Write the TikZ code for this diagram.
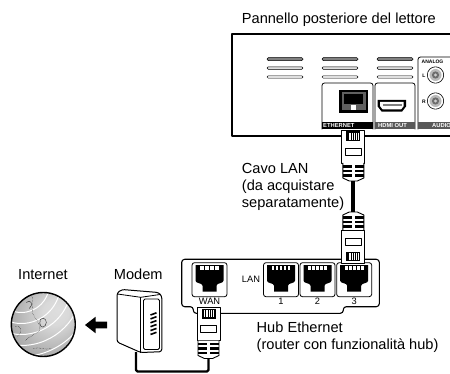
\documentclass[tikz,border=0pt]{standalone}
\usepackage{fontspec}
\setmainfont{Liberation Sans}
\usepackage{tikz}

\tikzstyle{lbl} = [inner sep=0pt, font=\fontsize{14.6}{17}\selectfont]
\tikzstyle{portlbl} = [inner sep=0pt, font=\fontsize{9.3}{11}\selectfont]
\tikzstyle{barlbl} = [inner sep=0pt, anchor=west, text=white, font=\fontsize{5.8}{6}\selectfont\bfseries]
\tikzstyle{tinylbl} = [inner sep=0pt, font=\fontsize{5}{5}\selectfont\bfseries]
\tikzstyle{portframe} = [draw=black, line width=0.8pt, rounded corners=2.5pt]
\tikzstyle{vent} = [draw=black, line width=0.5pt, rounded corners=1.3pt]
\tikzstyle{coast} = [gray!40!black, line width=0.45pt]
\tikzstyle{lancable} = [line width=3.8pt]
\tikzstyle{wancable} = [line width=2.3pt, rounded corners=1.5pt]

\definecolor{globelight}{RGB}{222,222,222}
\definecolor{globemid}{RGB}{172,172,172}
\definecolor{globedark}{RGB}{120,120,120}
\pgfdeclareradialshading{globeshade}{\pgfpoint{12bp}{12bp}}{%
  rgb(0bp)=(0.87,0.87,0.87); rgb(10bp)=(0.85,0.85,0.85); rgb(30bp)=(0.67,0.67,0.67); rgb(50bp)=(0.47,0.47,0.47)}

\tikzset{
  % RJ45 plug, tip at the origin, cable leaving at (-end)
  lanplug/.pic={
    \draw[fill=white, line width=0.9pt] (-11.5,0) rectangle (11.5,33);
    \fill (-7,1.5) rectangle (7,11);
    \foreach \i in {-4.5,-2.7,...,4.6}
      \draw[white, line width=0.45pt] (\i,2.8) -- (\i,9.8);
    \draw[line width=0.7pt] (-8,18) rectangle (8,25);
    \draw[fill=white, line width=0.9pt] (-10.5,33) -- (-10.5,48) -- (-4,51) -- (4,51) -- (10.5,48) -- (10.5,33);
    \foreach \j in {36.5,41,45.5}{
      \fill (-10.5,\j-1.1) rectangle (-1.5,\j+1.1);
      \fill (1.5,\j-1.1) rectangle (10.5,\j+1.1);
    }
    \coordinate (-end) at (0,51);
  },
  % socket on the hub, #1 = number of pins
  rjjack/.pic={
    \draw[portframe, fill=white] (-17.5,0) rectangle (17.5,34);
    \fill (-14,2.5) -- (14,2.5) -- (14,18) .. controls (14,21) and (7,20) .. (7,23) -- (7,29)
      -- (-7,29) -- (-7,23) .. controls (-7,20) and (-14,21) .. (-14,18) -- cycle;
    \foreach \k in {1,...,#1}
      \fill[white] ({-10+(\k-1)*20/#1+0.6},3.8) rectangle ({-10+\k*20/#1-0.6},7);
  }
}

\begin{document}
\begin{tikzpicture}[x=1pt, y=-1pt, line join=round]
\useasboundingbox (0,0) rectangle (450,374);
\clip (0,0) rectangle (450,374);

% player back panel
\draw[line width=1.8pt] (460,34) -- (232,34) -- (232,136) -- (460,136);
\foreach \vx in {267,322,377}{
  \draw[vent, fill=gray] (\vx,57.6) rectangle ++(36,3);
  \draw[vent, fill=gray!25] (\vx,66.8) rectangle ++(36,2.6);
  \draw[vent, fill=white] (\vx,75.8) rectangle ++(36,2.4);
}
% ethernet
\draw[portframe] (322,129.5) -- (322,83) -- (373,83) -- (373,129.5);
\fill (322,122) rectangle (373,129.5);
\node[barlbl] (ethlbl) at (323,125.9) {ETHERNET};
\fill (339,90) rectangle (368,113);
\fill[gray!75!black] (341.5,92.5) rectangle (365.5,110.5);
\fill (344,94.5) rectangle (363,104);
\fill[white] (351,105.5) rectangle (356,110.5);
% hdmi
\draw[portframe] (375,129.5) -- (375,83) -- (415,83) -- (415,129.5);
\fill[gray!70!black] (375,122) rectangle (415,129.5);
\node[barlbl] (hdmilbl) at (378,125.9) {HDMI OUT};
\fill (377.7,100) -- (406,100) -- (406,106.5) -- (402,111.7) -- (381.7,111.7) -- (377.7,106.5) -- cycle;
\fill[white] (380,102) -- (403.7,102) -- (403.7,106) -- (401,109.5) -- (382.7,109.5) -- (380,106) -- cycle;
\fill[gray] (382.5,104.3) rectangle (401.5,106.5);
% audio
\draw[portframe] (418,129.5) -- (418,57) -- (460,57);
\node[tinylbl, anchor=west] (analog) at (421.5,61.5) {ANALOG};
\node[tinylbl] (lch) at (424,76) {L};
\node[tinylbl] (rch) at (424,101.5) {R};
\foreach \jy in {75,101}{
  \draw[fill=white, line width=0.6pt] (435.5,\jy) circle (8.2pt);
  \fill[gray!55] (435.5,\jy) circle (6pt);
  \fill[gray!85!black] (435.5,\jy) circle (3.6pt);
  \fill[gray!40] (435.5,\jy) circle (1.6pt);
}
\fill[gray!70!black] (418,122) rectangle (460,129.5);
\node[barlbl] (audlbl) at (432,125.9) {AUDIO};

% hub
\draw[line width=1.1pt, fill=white, rounded corners=3pt] (181.7,306.7) -- (181.7,259.3) -- (379.3,259.3)
  -- (379.3,306.7) -- (343.3,306.7) -- (343.3,313.3) -- (193.3,313.3) -- (193.3,306.7) -- cycle;
\pic (wanport) at (209.5,262.7) {rjjack=4};
\node[portlbl] (wanlbl) at (209.5,301.7) {WAN};
\node[portlbl] (lanlbl) at (251,279) {LAN};
\foreach \px/\pn in {281/1, 317.5/2, 354.2/3}{
  \pic at (\px,262.7) {rjjack=5};
  \node[portlbl] (lan\pn) at (\px,301.7) {\pn};
}

% lan cable
\pic (up) at (353.3,130) {lanplug};
\pic[yscale=-1] (low) at (353.3,263) {lanplug};
\draw[lancable] (up-end) -- (low-end);

% wan cable to the modem
\pic (wan) at (208.5,307.5) {lanplug};
\coordinate (modemport) at (136,352);
\draw[wancable] (wan-end) -- ++(0,13) -| (modemport);

% modem
\draw[line width=1pt, fill=white, rounded corners=2.5pt] (117,342) -- (117,293) -- (122,289.5) -- (158.5,292.5)
  -- (161.8,296) -- (161.8,351.7) -- (140.7,352.5) -- cycle;
\draw[line width=0.8pt] (117.5,294) -- (140.7,297.3) -- (160,294.5);
\draw[line width=0.8pt] (140.7,297.3) -- (140.7,352.5);
\draw[line width=0.8pt, rounded corners=1.5pt] (143.5,299) rectangle (159.5,349.5);
\foreach \s in {0,...,5}
  \draw[line width=1.6pt] (150.5,315+\s*3.9) -- (156.5,312.8+\s*3.9);

% globe
\node[circle, minimum size=64pt, inner sep=0pt] (globe) at (43.3,324.5) {};
\fill[globedark] (globe.center) circle (32pt);
\shade[shading=globeshade] (globe.center) circle (32pt);
\begin{scope}[shift={(globe.center)}]
  \clip (0,0) circle (32pt);
  \foreach \r in {28,39,50,61,72}
    \draw[white, line width=1pt] (-22,-40) circle (\r pt);
  \draw[coast, densely dotted] (-12,-30) .. controls (-8,-22) and (-14,-15) .. (-9,-8)
    .. controls (-5,-2) and (-2,2) .. (-4,6) .. controls (-8,10) and (-14,12) .. (-18,16);
  \draw[coast] (-3,-5) .. controls (1,-9) and (5,-3) .. (2,1)
    .. controls (-1,5) and (-5,1) .. cycle;
  \draw[coast, densely dotted] (-28,2) .. controls (-22,0) and (-20,8) .. (-26,12);
  \draw[coast] (-17,-22) .. controls (-13,-26) and (-9,-20) .. (-14,-16);
  \draw[coast, densely dotted] (-10,24) .. controls (-4,22) and (2,26) .. (8,24);
\end{scope}
\draw[line width=1.4pt] (globe.center) circle (32pt);

% arrow towards the internet
\fill (85,325) -- (95.5,316.8) -- (95.5,321.7) -- (107,321.7) -- (107,328.3) -- (95.5,328.3) -- (95.5,333.2) -- cycle;

% labels
\node[lbl, anchor=base west] (title) at (241.7,23.1) {Pannello posteriore del lettore};
\node[lbl, anchor=north west, align=left] (cavo) at (241.7,162.7) {Cavo LAN\\(da acquistare\\separatamente)};
\node[lbl, anchor=north west, align=left] (hublbl) at (256.5,321.7) {Hub Ethernet\\(router con funzionalità hub)};
\node[lbl, anchor=base] (netlbl) at (43,279.3) {Internet};
\node[lbl, anchor=base] (modemlbl) at (138.3,279.3) {Modem};
\end{tikzpicture}
\end{document}
